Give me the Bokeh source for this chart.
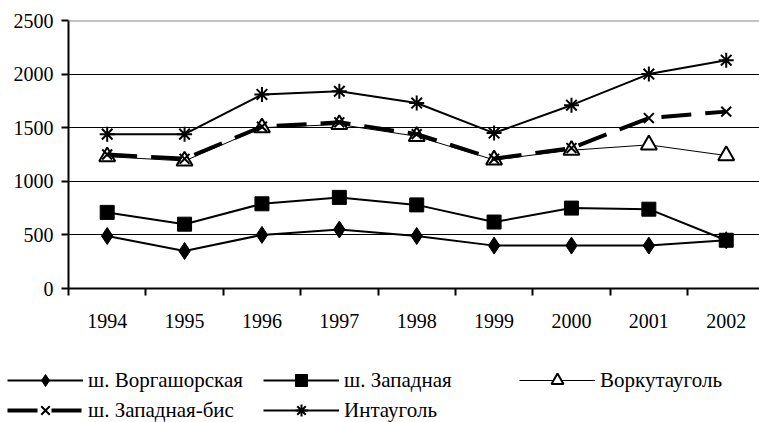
from bokeh.plotting import figure
from bokeh.layouts import column
from bokeh.models import Range1d, FixedTicker, Legend, LegendItem, Span
from bokeh.embed import file_html
from bokeh.resources import INLINE

years = ["1994", "1995", "1996", "1997", "1998", "1999", "2000", "2001", "2002"]
vorgashor = [490, 350, 500, 550, 490, 400, 400, 400, 450]
zapadnaya = [710, 600, 790, 850, 780, 620, 750, 740, 450]
vorkuta = [1230, 1190, 1500, 1530, 1420, 1200, 1290, 1340, 1240]
zap_bis = [1250, 1210, 1510, 1550, 1440, 1210, 1310, 1590, 1650]
inta = [1440, 1440, 1810, 1840, 1730, 1450, 1710, 2000, 2130]
y_ticks = [0, 500, 1000, 1500, 2000, 2500]
names = ["ш. Воргашорская", "ш. Западная", "Воркутауголь", "ш. Западная-бис", "Интауголь"]

FONT = "Liberation Serif"
xs = [i + 0.5 for i in range(len(years))]

styles = [
    dict(marker="diamond", size=17, fill_color="black", line_width=2, m_lw=1, dash="solid"),
    dict(marker="square", size=14, fill_color="black", line_width=2, m_lw=1, dash="solid"),
    dict(marker="triangle", size=16, fill_color="white", line_width=1, m_lw=2, dash="solid"),
    dict(marker="x", size=14, fill_color=None, line_width=4, m_lw=2, dash="30 14"),
    dict(marker="asterisk", size=15, fill_color=None, line_width=2, m_lw=2, dash="solid"),
]
series = [vorgashor, zapadnaya, vorkuta, zap_bis, inta]

p = figure(width=759, height=345, output_backend="svg", toolbar_location=None,
           x_range=Range1d(0, 8.93), y_range=Range1d(0, 2500),
           min_border_left=68, min_border_right=0, min_border_top=20, min_border_bottom=57)
p.outline_line_color = None
p.frame_align = False

# x axis: labels at category centres, tick marks at category boundaries
p.xaxis.ticker = FixedTicker(ticks=xs, minor_ticks=list(range(len(years) + 1)))
p.xaxis.major_label_overrides = {x: y for x, y in zip(xs, years)}
p.xaxis.major_tick_out = 0
p.xaxis.major_tick_in = 0
p.xaxis.minor_tick_out = 7
p.xaxis.minor_tick_in = 0
p.xaxis.minor_tick_line_width = 2
p.xaxis.minor_tick_line_color = "black"
p.xaxis.axis_line_width = 2
p.xaxis.axis_line_color = "black"
p.xaxis.major_label_standoff = 18
p.xaxis.major_label_text_font = FONT
p.xaxis.major_label_text_font_size = "20px"
p.xaxis.major_label_text_color = "black"

p.yaxis.ticker = FixedTicker(ticks=y_ticks)
p.yaxis.major_tick_out = 7
p.yaxis.major_tick_in = 0
p.yaxis.major_tick_line_width = 2
p.yaxis.major_tick_line_color = "black"
p.yaxis.minor_tick_line_color = None
p.yaxis.axis_line_width = 2
p.yaxis.axis_line_color = "black"
p.yaxis.major_label_standoff = 8
p.yaxis.major_label_text_font = FONT
p.yaxis.major_label_text_font_size = "20px"
p.yaxis.major_label_text_color = "black"

p.xgrid.grid_line_color = None
p.ygrid.ticker = FixedTicker(ticks=y_ticks[1:])
p.ygrid.grid_line_color = "black"
p.ygrid.grid_line_width = 1
p.add_layout(Span(location=y_ticks[-1], dimension="width", line_color="#888888", line_width=2))

for vals, st in zip(series, styles):
    p.line(xs, vals, line_color="black", line_width=st["line_width"], line_dash=st["dash"])
    p.scatter(xs, vals, marker=st["marker"], size=st["size"], fill_color=st["fill_color"],
              line_color="black", line_width=st["m_lw"])

# legend drawn in its own strip below the chart
pl = figure(width=759, height=77, output_backend="svg", toolbar_location=None,
            x_range=Range1d(0, 1), y_range=Range1d(0, 1),
            x_axis_type=None, y_axis_type=None,
            min_border_left=0, min_border_right=0, min_border_top=0, min_border_bottom=0)
pl.outline_line_color = None
pl.frame_align = False
pl.xgrid.grid_line_color = None
pl.ygrid.grid_line_color = None

nan = float("nan")
items = []
for name, st in zip(names, styles):
    lr = pl.line([nan], [nan], line_color="black", line_width=st["line_width"], line_dash=st["dash"])
    mr = pl.scatter([nan], [nan], marker=st["marker"], size=st["size"], fill_color=st["fill_color"],
                    line_color="black", line_width=st["m_lw"])
    items.append(LegendItem(label=name, renderers=[lr, mr]))

legend = Legend(items=items, location=(7, -3), orientation="horizontal", ncols=3,
                glyph_width=76, glyph_height=30, label_height=30, label_width=175,
                label_standoff=5, spacing=0, padding=0, margin=0,
                label_text_font=FONT, label_text_font_size="21px", label_text_color="black",
                border_line_color=None, background_fill_alpha=0)
pl.add_layout(legend, "center")

layout = column(p, pl, spacing=0)
open("out.html", "w").write(file_html(layout, INLINE))
